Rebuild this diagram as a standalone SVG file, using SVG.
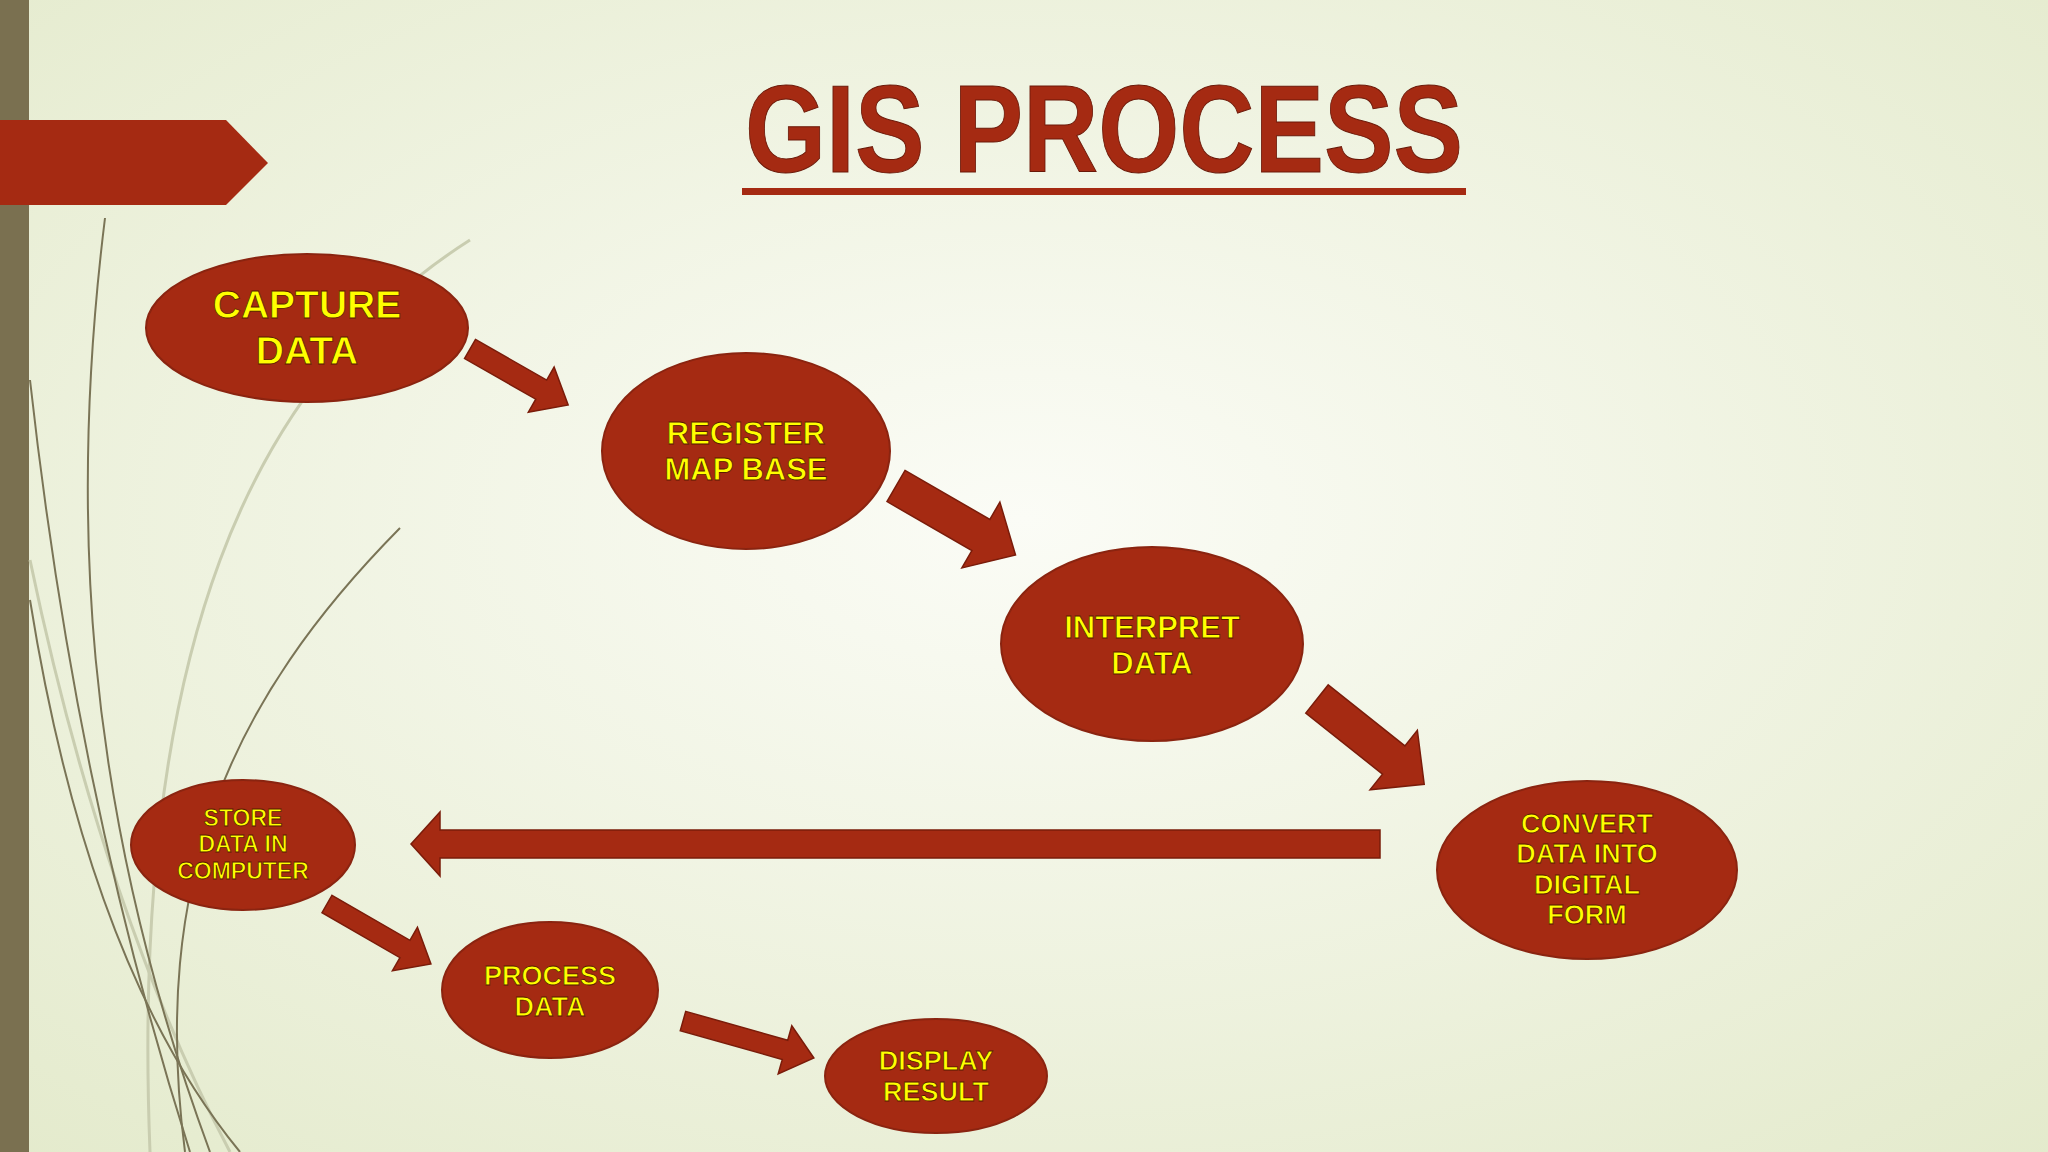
<svg xmlns="http://www.w3.org/2000/svg" width="2048" height="1152" viewBox="0 0 2048 1152">
<defs>
<radialGradient id="bg" cx="0.5" cy="0.45" r="0.8">
<stop offset="0" stop-color="#fbfcf6"/><stop offset="1" stop-color="#e2e9c9"/>
</radialGradient>
<style>
.n{fill:#a52a12;stroke:#8a2410;stroke-width:2}
.t{font-family:"Comic Sans MS","Liberation Sans",sans-serif;font-weight:bold;fill:#ffff00;stroke:#5a1a00;stroke-width:0.8;text-anchor:middle}
.a{fill:#a52a12;stroke:#7a1c0a;stroke-width:1.5}
.c{fill:none;stroke:#7a7456;stroke-width:2}
.c2{fill:none;stroke:#c9cdb0;stroke-width:3}
</style>
</defs>
<rect width="2048" height="1152" fill="url(#bg)"/>
<g id="decor">
<rect x="0" y="0" width="29" height="1152" fill="#7a7050"/>
<path class="c2" d="M30,560 C80,800 150,1000 230,1152"/>
<path class="c2" d="M470,240 C250,380 130,650 150,1152"/>
<path class="c" d="M105,218 C70,500 80,800 210,1152"/>
<path class="c" d="M30,380 C60,650 110,900 190,1152"/>
<path class="c" d="M400,528 C230,700 150,880 185,1152"/>
<path class="c" d="M30,600 C70,850 140,1030 240,1152"/>
<path d="M0,120 H226 L268,163 L226,205 H0 Z" fill="#a52a12"/>
</g>
<g id="title">
<text x="1104" y="172" font-family="Liberation Sans,sans-serif" font-weight="bold" font-size="125" fill="#a52a12" stroke="#6a1808" stroke-width="1" text-anchor="middle" textLength="718" lengthAdjust="spacingAndGlyphs">GIS PROCESS</text>
<rect x="742" y="188" width="724" height="7" fill="#a52a12"/>
</g>
<g id="connectors">
<path class="a" transform="translate(470,349) rotate(29.7)" d="M0,-11 L82,-11 L82,-26 L113,0 L82,26 L82,11 L0,11 Z"/>
<path class="a" transform="translate(896,486) rotate(30)" d="M0,-18 L98,-18 L98,-38 L138,0 L98,38 L98,18 L0,18 Z"/>
<path class="a" transform="translate(1317,699) rotate(38.5)" d="M0,-18 L98,-18 L98,-38 L137,0 L98,38 L98,18 L0,18 Z"/>
<path class="a" d="M1380,830 L440,830 L440,812 L411,844 L440,876 L440,858 L1380,858 Z"/>
<path class="a" transform="translate(327,904) rotate(30)" d="M0,-10 L90,-10 L90,-25 L120,0 L90,25 L90,10 L0,10 Z"/>
<path class="a" transform="translate(683,1021) rotate(15.8)" d="M0,-10 L106,-10 L106,-25 L136,0 L106,25 L106,10 L0,10 Z"/>
</g>
<g id="capture"><ellipse class="n" cx="307" cy="328" rx="161" ry="74"/><text class="t" font-size="39" x="307" y="318">CAPTURE</text><text class="t" font-size="39" x="307" y="364">DATA</text></g>
<g id="register"><ellipse class="n" cx="746" cy="451" rx="144" ry="98"/><text class="t" font-size="31" x="746" y="444">REGISTER</text><text class="t" font-size="31" x="746" y="480">MAP BASE</text></g>
<g id="interpret"><ellipse class="n" cx="1152" cy="644" rx="151" ry="97"/><text class="t" font-size="31" x="1152" y="638">INTERPRET</text><text class="t" font-size="31" x="1152" y="674">DATA</text></g>
<g id="convert"><ellipse class="n" cx="1587" cy="870" rx="150" ry="89"/><text class="t" font-size="27" x="1587" y="833">CONVERT</text><text class="t" font-size="27" x="1587" y="863">DATA INTO</text><text class="t" font-size="27" x="1587" y="894">DIGITAL</text><text class="t" font-size="27" x="1587" y="924">FORM</text></g>
<g id="store"><ellipse class="n" cx="243" cy="845" rx="112" ry="65"/><text class="t" font-size="23" x="243" y="826">STORE</text><text class="t" font-size="23" x="243" y="852">DATA IN</text><text class="t" font-size="23" x="243" y="879">COMPUTER</text></g>
<g id="process"><ellipse class="n" cx="550" cy="990" rx="108" ry="68"/><text class="t" font-size="27" x="550" y="985">PROCESS</text><text class="t" font-size="27" x="550" y="1016">DATA</text></g>
<g id="display"><ellipse class="n" cx="936" cy="1076" rx="111" ry="57"/><text class="t" font-size="27" x="936" y="1070">DISPLAY</text><text class="t" font-size="27" x="936" y="1101">RESULT</text></g>
</svg>
